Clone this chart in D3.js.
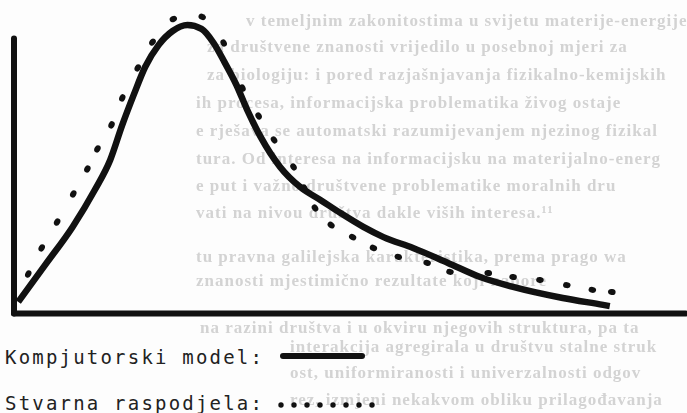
<!DOCTYPE html>
<html>
<head>
<meta charset="utf-8">
<script src="https://cdn.jsdelivr.net/npm/d3@7"></script>
<style>
  body { margin: 0; background: #fdfdfd; }
  svg { display: block; }
</style>
</head>
<body>
<div class="canva"></div>
<script>
// computer model curve (x, y) in chart units 0..100
const modelX = [0.7, 4.8, 8.8, 12.1, 14.4, 16.2, 17.9, 19.6, 21.6, 23.7, 25.9, 28, 29.8, 31.4, 33.2, 34.8, 36.8, 39.7, 42.7, 45.7, 48.7, 52.1, 55.1, 59.5, 64.7, 69.5, 74.4, 81.8, 87.8, 88.8];
const modelY = [3.7, 16.3, 28.7, 41, 51, 62.7, 72.7, 82, 89.3, 94, 96, 94.7, 90, 83.7, 76, 67.7, 58.7, 48.7, 42, 37.7, 33.3, 28.7, 25.3, 21.7, 16.7, 12, 8.7, 5, 2.7, 2.3];

// real distribution (dotted)
const realX = [2.2, 4.2, 6.5, 8.9, 11, 12.5, 14.6, 16.2, 18.5, 20.7, 23.8, 28.1, 31.3, 34.1, 36.5, 38.8, 41.7, 43.3, 44.9, 47.3, 50.5, 53.6, 57.3, 61.6, 65, 70.7, 74.4, 78.4, 82.4, 86.2, 89.1];
const realY = [13, 21.7, 30.3, 39.7, 48, 54.7, 62.7, 71.7, 81.7, 90.3, 98, 98.7, 90, 75, 65.7, 57.7, 48.7, 41.7, 35, 29.3, 25.3, 21.7, 18.7, 16.7, 13.7, 13.3, 12, 11, 9.3, 7.7, 7];

const legendLabels = ["Kompjutorski model:", "Stvarna raspodjela:"];

// bleed-through text of the scanned page
const pageLines = [
    "v temeljnim zakonitostima u svijetu materije-energije",
    "za društvene znanosti vrijedilo u posebnoj mjeri za",
    "za biologiju: i pored razjašnjavanja fizikalno-kemijskih",
    "ih procesa, informacijska problematika živog ostaje",
    "e rješava se automatski razumijevanjem njezinog fizikal",
    "tura. Od interesa na informacijsku na materijalno-energ",
    "e put i važno društvene problematike moralnih dru",
    "vati na nivou društva dakle viših interesa.¹¹",
    "tu pravna galilejska karakteristika, prema prago wa",
    "znanosti mjestimično rezultate koji napore",
    "na razini društva i u okviru njegovih struktura, pa ta",
    "interakcija agregirala u društvu stalne struk",
    "ost, uniformiranosti i univerzalnosti odgov",
    "rez, izmjeni nekakvom obliku prilagođavanja"
];
const pageLineX = [246, 207, 207, 196, 196, 196, 196, 196, 196, 196, 200, 290, 290, 290];
const pageLineY = [26, 52, 80, 108, 136, 164, 191, 218, 262, 286, 333, 352, 378, 405];

const width = 687, height = 413;
const svg = d3.select(".canva").append("svg")
    .attr("width", width)
    .attr("height", height);

svg.append("defs").append("filter")
    .attr("id", "bleed")
    .append("feGaussianBlur")
    .attr("stdDeviation", 0.6);

svg.append("rect").attr("width", width).attr("height", height).attr("fill", "#fdfdfd");

svg.append("g")
    .attr("filter", "url(#bleed)")
    .selectAll("text")
    .data(pageLines)
    .enter()
    .append("text")
    .attr("x", (d, i) => pageLineX[i])
    .attr("y", (d, i) => pageLineY[i])
    .attr("fill", "#d3d3d3")
    .style("font-family", "'Liberation Serif', 'DejaVu Serif', serif")
    .style("font-size", "17px")
    .style("font-weight", "bold")
    .style("letter-spacing", "1px")
    .text(d => d);

const x = d3.scaleLinear().domain([0, 100]).range([13.5, 685]);
const y = d3.scaleLinear().domain([0, 100]).range([313, 13]);

const ink = "#111";

// axes without ticks
const xAxis = d3.axisBottom(x).tickValues([]).tickSizeOuter(0);
const yAxisTop = 91.7;
const yAxisScale = d3.scaleLinear().domain([0, yAxisTop]).range([y(0), y(yAxisTop)]);
const yAxis = d3.axisLeft(yAxisScale).tickValues([]).tickSizeOuter(0);

const xAxisGroup = svg.append("g").attr("transform", `translate(0, ${y(0)})`).call(xAxis);
const yAxisGroup = svg.append("g").attr("transform", `translate(${x(0)}, 0)`).call(yAxis);
[xAxisGroup, yAxisGroup].forEach(g => g.select(".domain")
    .attr("stroke", ink)
    .attr("stroke-width", 6)
    .attr("stroke-linecap", "round"));

const modelData = modelX.map((v, i) => ({ x: v, y: modelY[i] }));
const realData = realX.map((v, i) => ({ x: v, y: realY[i] }));

// dots, slightly stretched along the curve
svg.append("g").selectAll("ellipse")
    .data(realData)
    .enter()
    .append("ellipse")
    .attr("rx", 3.8)
    .attr("ry", 3)
    .attr("fill", ink)
    .attr("transform", (d, i) => {
        const a = realData[Math.max(0, i - 1)], b = realData[Math.min(realData.length - 1, i + 1)];
        const ang = Math.atan2(y(b.y) - y(a.y), x(b.x) - x(a.x)) * 180 / Math.PI;
        return `translate(${x(d.x)}, ${y(d.y)}) rotate(${ang})`;
    });

const line = d3.line()
    .x(d => x(d.x))
    .y(d => y(d.y))
    .curve(d3.curveMonotoneX);

svg.append("path")
    .datum(modelData)
    .attr("fill", "none")
    .attr("stroke", ink)
    .attr("stroke-width", 6.5)
    .attr("stroke-linejoin", "round")
    .attr("d", line);

// legend
const legend = svg.append("g");
legend.selectAll("text")
    .data(legendLabels)
    .enter()
    .append("text")
    .attr("x", 5)
    .attr("y", (d, i) => 364 + i * 46)
    .attr("fill", "#222")
    .style("font-family", "'DejaVu Sans Mono', monospace")
    .style("font-size", "19px")
    .style("letter-spacing", "2.2px")
    .text(d => d);

legend.append("line")
    .attr("x1", 283).attr("x2", 362)
    .attr("y1", 356).attr("y2", 356)
    .attr("stroke", ink)
    .attr("stroke-width", 6)
    .attr("stroke-linecap", "round");

legend.selectAll("circle")
    .data(d3.range(8))
    .enter()
    .append("circle")
    .attr("cx", d => 281 + d * 13)
    .attr("cy", 405)
    .attr("r", 2.7)
    .attr("fill", ink);
</script>
</body>
</html>
